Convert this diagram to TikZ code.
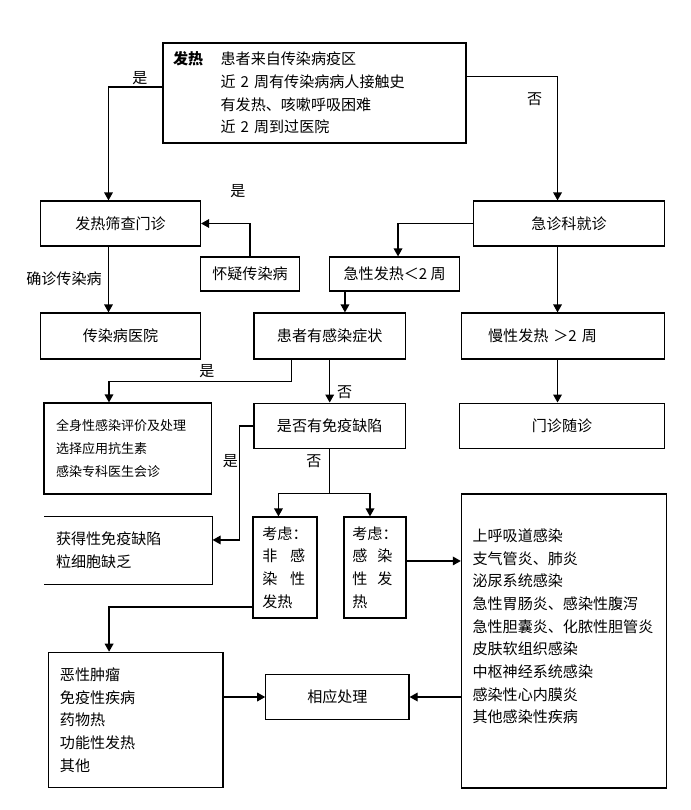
\documentclass[tikz,border=0pt]{standalone}
\usepackage{fontspec}
\setmainfont{Noto Sans CJK SC}
\usepackage{tikz}
\usetikzlibrary{arrows.meta}

\begin{document}
\begin{tikzpicture}[x=0.75pt, y=-0.75pt,
    font=\fontsize{11.3}{17}\selectfont,
    link/.style={-{Triangle[length=6pt, width=6.5pt]}, line width=0.9pt}]
    \fill[white] (0,0) rectangle (691,810);
    \useasboundingbox (0,0) rectangle (691,810);
    \begin{scope}[every node/.style={draw, rectangle, line width=0.9pt,
        inner sep=0pt, align=center
        }]
        \node (fever)at (314.5, 93)[minimum width=227.25pt, minimum height=75pt, text width=212pt, align=left]{\makebox[3.15em][l]{\textbf{发热}}患者来自传染病疫区\\ \hspace*{3.15em}近 2 周有传染病病人接触史\\ \hspace*{3.15em}有发热、咳嗽呼吸困难\\ \hspace*{3.15em}近 2 周到过医院};
        \node (screen)at (120.5, 223.5)[minimum width=120pt, minimum height=33.75pt]{发热筛查门诊};
        \node (er)at (569, 223.5)[minimum width=142.9pt, minimum height=33.75pt]{急诊科就诊};
        \node (suspect)at (250, 274)[minimum width=74.25pt, minimum height=25.5pt]{怀疑传染病};
        \node (acute)at (394.7, 274)[minimum width=97.5pt, minimum height=25.5pt]{急性发热＜2 周};
        \node (hosp)at (120.5, 336)[minimum width=120pt, minimum height=34.5pt]{传染病医院};
        \node (symp)at (329.7, 336)[minimum width=113.7pt, minimum height=34.5pt]{患者有感染症状};
        \node (chronic)at (562.8, 336)[minimum width=152.1pt, minimum height=34.5pt, text width=112pt, align=left]{慢性发热 ＞2 周};
        \node (followup)at (562, 426)[minimum width=153.4pt, minimum height=34.3pt]{门诊随诊};
        \node (eval)at (127.8, 448.5)[minimum width=125.6pt, minimum height=68.25pt, text width=107.6pt, align=left, font=\fontsize{9.75}{17}\selectfont]{全身性感染评价及处理\\ 选择应用抗生素\\ 感染专科医生会诊};
        \node (immune)at (329.7, 426)[minimum width=113.7pt, minimum height=34.3pt]{是否有免疫缺陷};
        \node (acquired)at (128.5, 550.5)[draw=none, minimum width=125.25pt, minimum height=50.25pt, text width=108.75pt, align=left]{获得性免疫缺陷\\ 粒细胞缺乏};
        \node (nonInf)at (285, 567.5)[minimum width=48pt, minimum height=75.75pt, text width=33.9pt, align=left]{考虑：\\ 非\hspace{9.5pt}感\\ 染\hspace{9.5pt}性\\ 发热};
        \node (inf)at (375, 567.5)[minimum width=46.5pt, minimum height=75.75pt, text width=33.9pt, align=left]{考虑：\\ 感\hspace{7.5pt}染\\ 性\hspace{7.5pt}发\\ 热};
        \node (diseases)at (563.9, 641)[minimum width=153.75pt, minimum height=220.5pt, text width=137pt, align=left]{上呼吸道感染\\ 支气管炎、肺炎\\ 泌尿系统感染\\ 急性胃肠炎、感染性腹泻\\ 急性胆囊炎、化脓性胆管炎\\ 皮肤软组织感染\\ 中枢神经系统感染\\ 感染性心内膜炎\\ 其他感染性疾病\\[6pt]\mbox{}};
        \node (other)at (135.75, 720)[minimum width=130.9pt, minimum height=101.5pt, text width=113.7pt, align=left]{恶性肿瘤\\ 免疫性疾病\\ 药物热\\ 功能性发热\\ 其他};
        \node (treat)at (337.4, 697)[minimum width=107.4pt, minimum height=34.3pt]{相应处理};
    \end{scope}
    % box open on the left side
    \draw[line width=0.9pt] (acquired.north west) -- (acquired.north east) -- (acquired.south east) -- (acquired.south west);

    % yes / no labels
    \node (yesA) at (140, 78){是};
    \node (noA) at (534.6, 99){否};
    \node (yesB) at (238, 191){是};
    \node (confirm) at (64, 279){确诊传染病};
    \node (yesC) at (207, 370.7){是};
    \node (noB) at (344.6, 392){否};
    \node (yesD) at (230.5, 461){是};
    \node (noC) at (313.8, 460.7){否};

    % arrows
    \draw[link] ([yshift=4.5pt]fever.west) -| ([xshift=-9pt]screen.north);
    \draw[link] ([yshift=12.2pt]fever.east) -| ([xshift=-8.6pt]er.north);
    \draw[link] (suspect.north) |- (screen.east);
    \draw[link] (er.west) -| ([xshift=2.5pt]acute.north);
    \draw[link] ([xshift=-9pt]screen.south) -- ([xshift=-9pt]hosp.north);
    \coordinate (acuteOut) at ([xshift=-37.3pt]acute.south);
    \draw[link] (acuteOut) -- (acuteOut |- symp.north);
    \coordinate (erOut) at ([xshift=-8.6pt]er.south);
    \draw[link] (erOut) -- (erOut |- chronic.north);
    \draw[link] (erOut |- chronic.south) -- (erOut |- followup.north);
    \draw[link] ([xshift=-28.4pt]symp.south) -- ++(0,22) -| ([xshift=-14.1pt]eval.north);
    \draw[link] (symp) -- (immune);
    \draw[link] (immune.west) -- ++(-14,0) |- ([yshift=7.9pt]acquired.east);
    % split into two
    \draw[line width=0.9pt] (immune.south) -- ++(0,44) coordinate (split);
    \draw[link] (split) -| ([xshift=-4.9pt]nonInf.north);
    \draw[link] (split) -| ([xshift=-3.75pt]inf.north);
    \coordinate (infOut) at ([yshift=4.9pt]inf.east);
    \draw[link] (infOut) -- (infOut -| diseases.west);
    \draw[link] ([yshift=-29.6pt]nonInf.west) -| ([xshift=-20pt]other.north);
    \draw[link] (other.east |- treat.west) -- (treat.west);
    \draw[link] (diseases.west |- treat.east) -- (treat.east);
\end{tikzpicture}
\end{document}
